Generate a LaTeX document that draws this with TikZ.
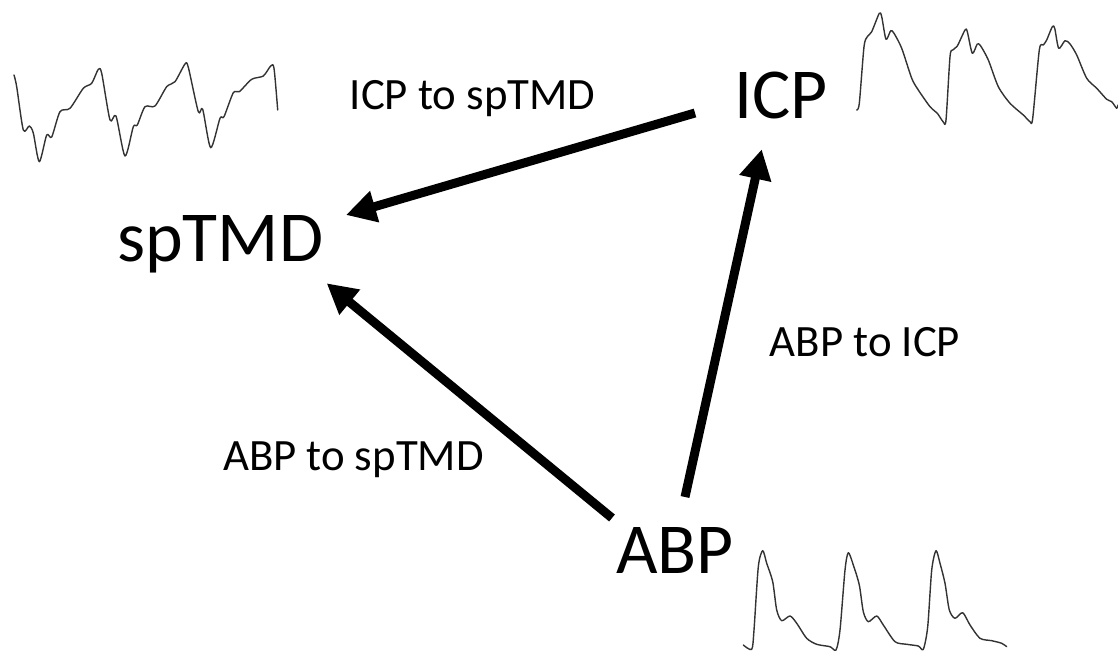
\documentclass[tikz,border=0pt]{standalone}
\usepackage{fontspec}
\setmainfont{Carlito}
\usepackage{tikz}
\usetikzlibrary{arrows.meta, calc}
\definecolor{tracegray}{HTML}{333333}

\tikzset{
  bigname/.style={font=\fontsize{40.8}{44}\selectfont, anchor=base, inner sep=0pt},
  linklabel/.style={font=\fontsize{25.5}{28}\selectfont, anchor=base, inner sep=0pt},
  bigarrow/.style={line width=5.1pt, -{Triangle[length=17pt, width=17.5pt]}},
  trace/.style={draw=tracegray, line width=0.8pt, line join=round, line cap=round}
}

\begin{document}
\begin{tikzpicture}[x=0.02cm, y=-0.02cm]
\useasboundingbox (0,0) rectangle (1118,651);
% signal names
\node[bigname] (icp) at (781,119) {ICP};
\node[bigname] (sptmd) at (220.3,261.7) {spTMD};
\node[bigname] (abp) at (675,573) {ABP};
% link labels
\node[linklabel] (icplab) at (472.5,110) {ICP to spTMD};
\node[linklabel] (abpsplab) at (353.4,470.7) {ABP to spTMD};
\node[linklabel] (abpicplab) at (865,356.7) {ABP to ICP};
% arrows
\draw[bigarrow] ($(icp.base)+(-86,-6)$) -- ($(sptmd.base)+(125.7,-46.7)$);
\draw[bigarrow] ($(abp.base)+(-63,-55)$) -- ($(sptmd.base)+(106.4,21.6)$);
\draw[bigarrow] ($(abp.base)+(10,-76)$) -- ($(icp.base)+(-19.3,30.3)$);
% spTMD trace
\draw[trace] plot[smooth, tension=0.45] coordinates {
  (14,75) (16.7,86.7) (23.3,130) (29.3,126) (33.3,133) (39.3,161.7) (46.7,135)
  (51.7,137) (60,111.7) (70,108.3) (83.3,88.3) (91.7,83.3) (98.3,69.3) (101.7,73.3)
  (110,120) (116,116) (125,156) (133.3,126.7) (137.3,125) (145,106.7) (155,106)
  (166.7,86.7) (175,81.7) (185,64) (188.3,67.3) (198.3,111.7) (202.7,109.3)
  (210.7,147.7) (220,118.3) (224,116.7) (233.3,92.7) (239.3,91.7) (251.7,79.3)
  (263.3,76) (270.7,66) (274,68.3) (277.7,110)};
% ICP trace
\draw[trace] plot[smooth, tension=0.45] coordinates {
  (856.7,110) (859.3,103.3) (864,46.7) (867.3,36.7) (871.7,31.7) (879.3,13.3)
  (881.7,16.7) (886,39.3) (890.7,30.7) (894,33.3) (901.7,48.3) (911.7,78.3)
  (918.3,90) (930,106.7) (937.3,113.3) (943.3,122) (946,120) (950,56.7) (952.7,50)
  (957.3,46) (965,30) (967.3,31.7) (972.3,53.3) (977.3,44) (980.7,46) (988.3,60)
  (998.3,86.7) (1010,103.3) (1023.3,115) (1030,121.7) (1032.7,118.3) (1039.3,50)
  (1043.3,45) (1046.7,40) (1052.3,26.7) (1054.7,28.3) (1058.7,48.3) (1065,40.7)
  (1070,44) (1076.7,55) (1086.7,78.3) (1096.7,88.3) (1106.7,99.3) (1111.7,101.7)
  (1116.7,108.3) (1118,105)};
% ABP trace
\draw[trace] plot[smooth, tension=0.45] coordinates {
  (743.3,645) (751.7,649.3) (754,630) (758.3,566.7) (762.7,550.7) (766.7,563.3)
  (772.7,581.7) (776.7,610) (781.7,620.7) (790,616) (796.7,623.3) (806.7,638.3)
  (816.7,644.3) (830,646.7) (836,650) (840,630) (845,570) (848.3,552.7) (853.3,565)
  (859.3,585) (863.3,611.7) (868.3,621.7) (876.7,616) (883.3,625) (895,641.7)
  (906.7,644.3) (918.3,646) (923.3,649.3) (927.7,626.7) (931.7,570) (936,550.7)
  (940,563.3) (945,583.3) (949.3,610) (955,618.3) (962.7,612.7) (970,625)
  (980,638.3) (991.7,640.7) (1001.7,643.3) (1006.7,646.7)};
\end{tikzpicture}
\end{document}
